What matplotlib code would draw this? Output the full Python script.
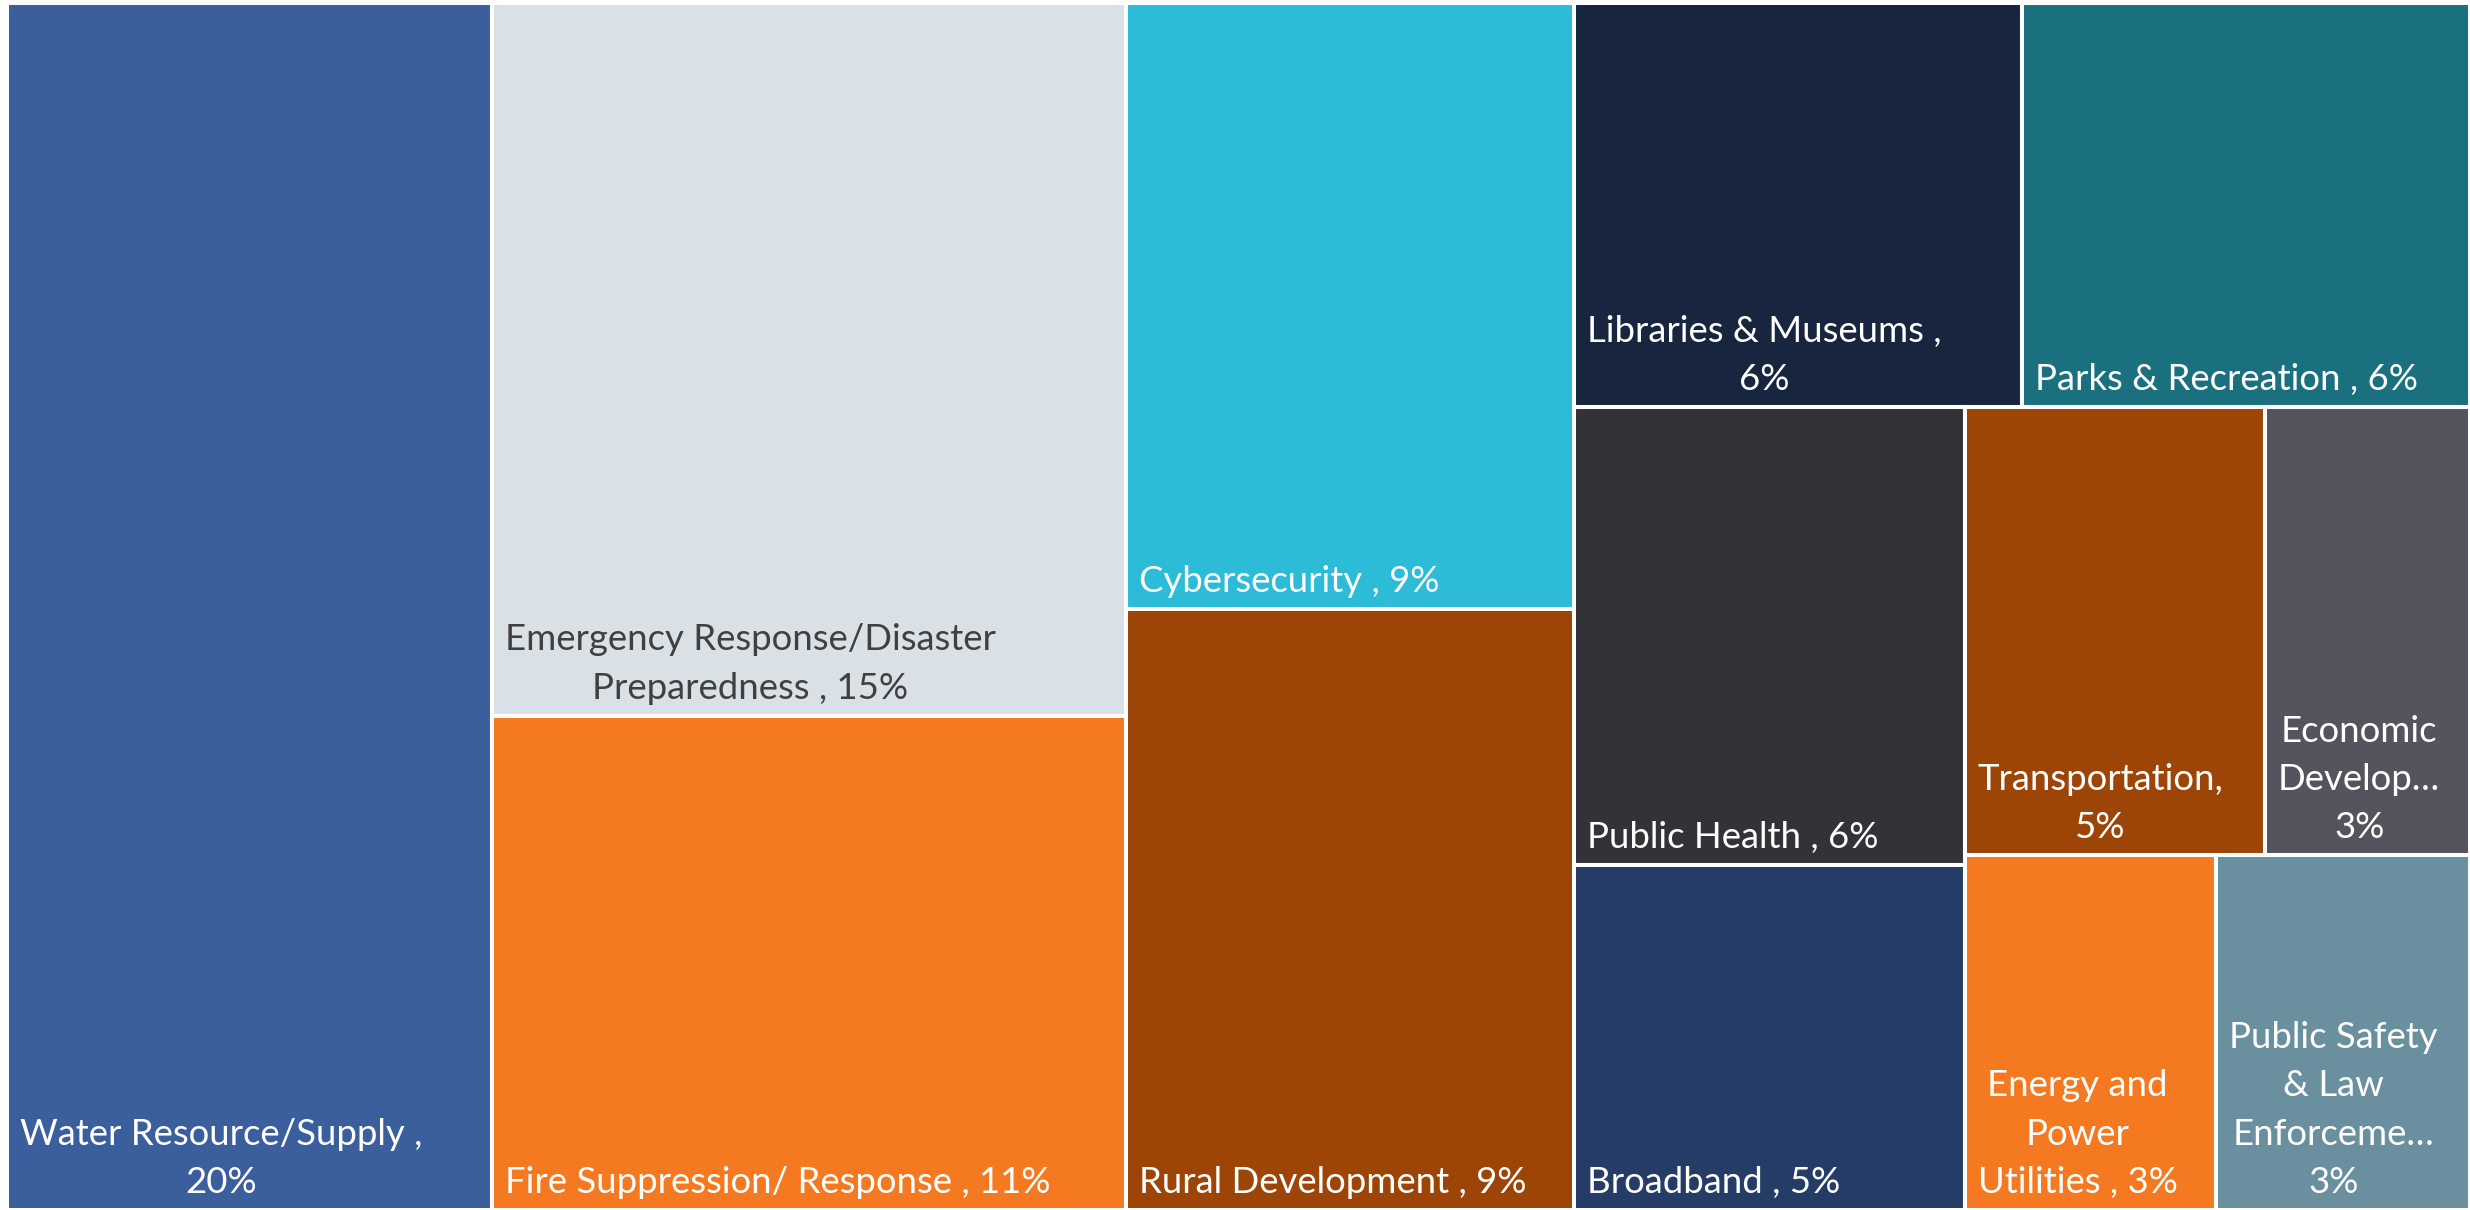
import matplotlib
matplotlib.use("Agg")
import matplotlib.pyplot as plt
from matplotlib.patches import Rectangle

# ---- data ----
categories = [
    "Water Resource/Supply ,",
    "Emergency Response/Disaster\nPreparedness ,",
    "Fire Suppression/ Response ,",
    "Cybersecurity ,",
    "Rural Development ,",
    "Libraries & Museums ,",
    "Parks & Recreation ,",
    "Public Health ,",
    "Broadband ,",
    "Transportation,",
    "Economic\nDevelop…",
    "Energy and\nPower\nUtilities ,",
    "Public Safety\n& Law\nEnforceme…",
]
values = [19.69, 15.2, 10.54, 9.13, 9.06, 6.09, 6.09, 6.02, 4.53, 4.53, 3.09, 3.0, 3.03]
# whether percentage goes on its own line
pct_newline = [True, False, False, False, False, True, False, False, False, True, True, False, True]
colors = ["#3B5F9D", "#D9E0E6", "#F47920", "#2CBCD7", "#9D4407", "#17253F", "#1B7080",
          "#333237", "#253D66", "#9D4407", "#54545E", "#F47920", "#6A8F9E"]
text_colors = ["white", "#404040"] + ["white"] * 11

# nested slicing structure: 'h' = side by side, 'v' = stacked top-to-bottom
layout = ("h", [0, ("v", [1, 2]), ("v", [3, 4]),
                ("v", [("h", [5, 6]),
                       ("h", [("v", [7, 8]),
                              ("v", [("h", [9, 10]), ("h", [11, 12])])])])])

FIG_W, FIG_H = 2470, 1210
X0, Y0 = 7, 3
W, H = FIG_W - X0, FIG_H - Y0

def total(node):
    if isinstance(node, int):
        return values[node]
    return sum(total(c) for c in node[1])

rects = {}
def place(node, x, y, w, h):
    if isinstance(node, int):
        rects[node] = (x, y, w, h)
        return
    d, kids = node
    t = total(node)
    pos = x if d == "h" else y
    for k in kids:
        frac = total(k) / t
        if d == "h":
            place(k, pos, y, w * frac, h)
            pos += w * frac
        else:
            place(k, x, pos, w, h * frac)
            pos += h * frac

place(layout, 0, 0, W, H)

fig = plt.figure(figsize=(FIG_W / 100, FIG_H / 100), dpi=100)
ax = fig.add_axes([X0 / FIG_W, 0, W / FIG_W, H / FIG_H])
ax.set_xlim(0, W)
ax.set_ylim(H, 0)
ax.axis("off")

tot = sum(values)
for i, (x, y, w, h) in rects.items():
    ax.add_patch(Rectangle((x, y), w, h, facecolor=colors[i], edgecolor="white",
                           linewidth=2.9))
    pct = round(values[i] / tot * 100)
    sep = "\n" if pct_newline[i] else " "
    label = f"{categories[i]}{sep}{pct}%"
    ax.text(x + 13, y + h - 17, label, ha="left", va="baseline", multialignment="center",
            color=text_colors[i], fontsize=26.3, family=["Lato", "DejaVu Sans"],
            linespacing=1.57)

fig.savefig("out.png", dpi=100)
